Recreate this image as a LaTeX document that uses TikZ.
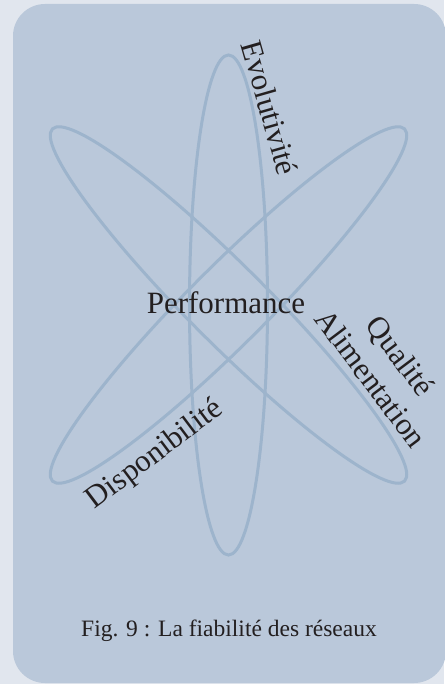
\documentclass[tikz,border=0pt]{standalone}
\usepackage{fontspec}
\setmainfont{Liberation Serif}
\definecolor{outerbg}{HTML}{E1E6EE}
\definecolor{boxbg}{HTML}{BAC8DA}
\definecolor{orbit}{HTML}{9DB4CC}
\definecolor{ink}{HTML}{231F20}
\begin{document}
\begin{tikzpicture}[x=1pt,y=-1pt,
  orbitline/.style={draw=orbit,line width=3pt},
  lbl/.style={text=ink,font=\fontsize{31}{37}\selectfont,inner sep=0pt,align=center},
  captiontext/.style={text=ink,font=\fontsize{23.5}{28}\selectfont,inner sep=0pt}]
\fill[outerbg] (0,0) rectangle (444,684);
\useasboundingbox (0,0) rectangle (444,684);
\fill[boxbg,rounded corners=32pt] (13,4) rectangle (446,683);
\coordinate (c) at (228.5,305);
\draw[orbitline] (c) ellipse [x radius=39, y radius=250];
\draw[orbitline,rotate around={45:(c)}] (c) ellipse [x radius=39, y radius=249];
\draw[orbitline,rotate around={-45:(c)}] (c) ellipse [x radius=39, y radius=249];
\node[lbl,anchor=base] (perf) at (226,313) {Performance};
\node[lbl,rotate=-74] (evol) at (270,108) {Evolutivité};
\node[lbl,rotate=-53] (qual) at (386,367) {Qualité\\Alimentation};
\node[lbl,rotate=37] (disp) at (155,455) {Disponibilité};
\node[captiontext,anchor=base] (fig) at (229,636) {Fig. 9 : La fiabilité des réseaux};
\end{tikzpicture}
\end{document}
